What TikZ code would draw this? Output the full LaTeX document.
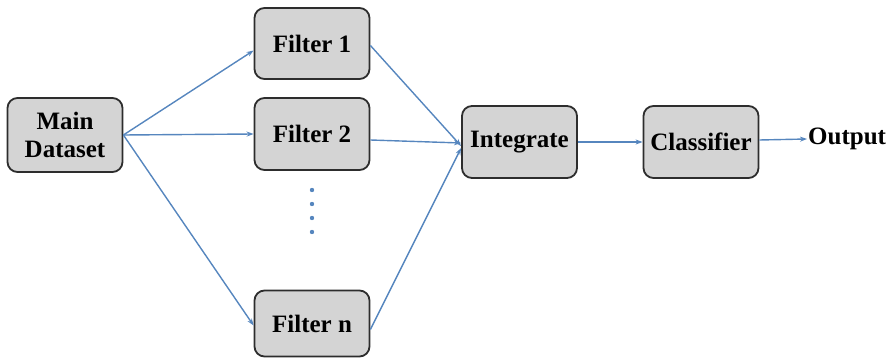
\documentclass[tikz,border=0pt]{standalone}
\usepackage{fontspec}
\setmainfont{Liberation Serif}
\usetikzlibrary{arrows.meta}
\definecolor{boxfill}{RGB}{212,212,212}
\definecolor{boxline}{RGB}{45,45,45}
\definecolor{flow}{RGB}{86,134,190}
\tikzset{
  procbox/.style={draw=boxline, line width=1.8pt, fill=boxfill, rounded corners=10pt,
    minimum width=115pt, minimum height=72pt, align=center,
    font=\fontsize{25}{28}\selectfont\bfseries, inner sep=0pt},
  flowarrow/.style={draw=flow, line width=1.4pt, -{Stealth[length=7pt,width=5pt]}},
  lbl/.style={font=\fontsize{25}{28}\selectfont\bfseries, inner sep=1pt}
}
\begin{document}
\begin{tikzpicture}[x=1pt,y=-1pt]
\useasboundingbox (0,0) rectangle (889,358);
\node[procbox, minimum height=74pt] (main) at (65,135) {Main\\Dataset};
\node[procbox, minimum height=71pt] (f1) at (312,43.5) {Filter 1};
\node[procbox] (f2) at (312,134) {Filter 2};
\node[procbox, minimum height=66pt] (fn) at (312,323.5) {Filter n};
\node[procbox] (int) at (519.5,142) {Integrate};
\node[procbox] (cls) at (701,142) {Classifier};
\node[lbl, anchor=west] (out) at (807,139) {Output};
% vertical ellipsis between the filters
\foreach \yy in {190,204,218,232}
  \fill[flow] (312,\yy) circle (2.2pt);
% connectors
\draw[flowarrow] (main.east) -- ([yshift=-7pt]f1.west);
\draw[flowarrow] (main.east) -- (f2.west);
\draw[flowarrow] (main.east) -- ([yshift=-2pt]fn.west);
\draw[flowarrow] ([yshift=-2pt]f1.east) -- ([yshift=-4pt]int.west);
\draw[flowarrow] ([yshift=-6pt]f2.east) -- ([yshift=-1pt]int.west);
\draw[flowarrow] ([yshift=-6pt]fn.east) -- ([yshift=-6pt]int.west);
\draw[flowarrow] (int.east) -- (cls.west);
\draw[flowarrow] ([yshift=2pt]cls.east) -- (out.west);
\end{tikzpicture}
\end{document}
